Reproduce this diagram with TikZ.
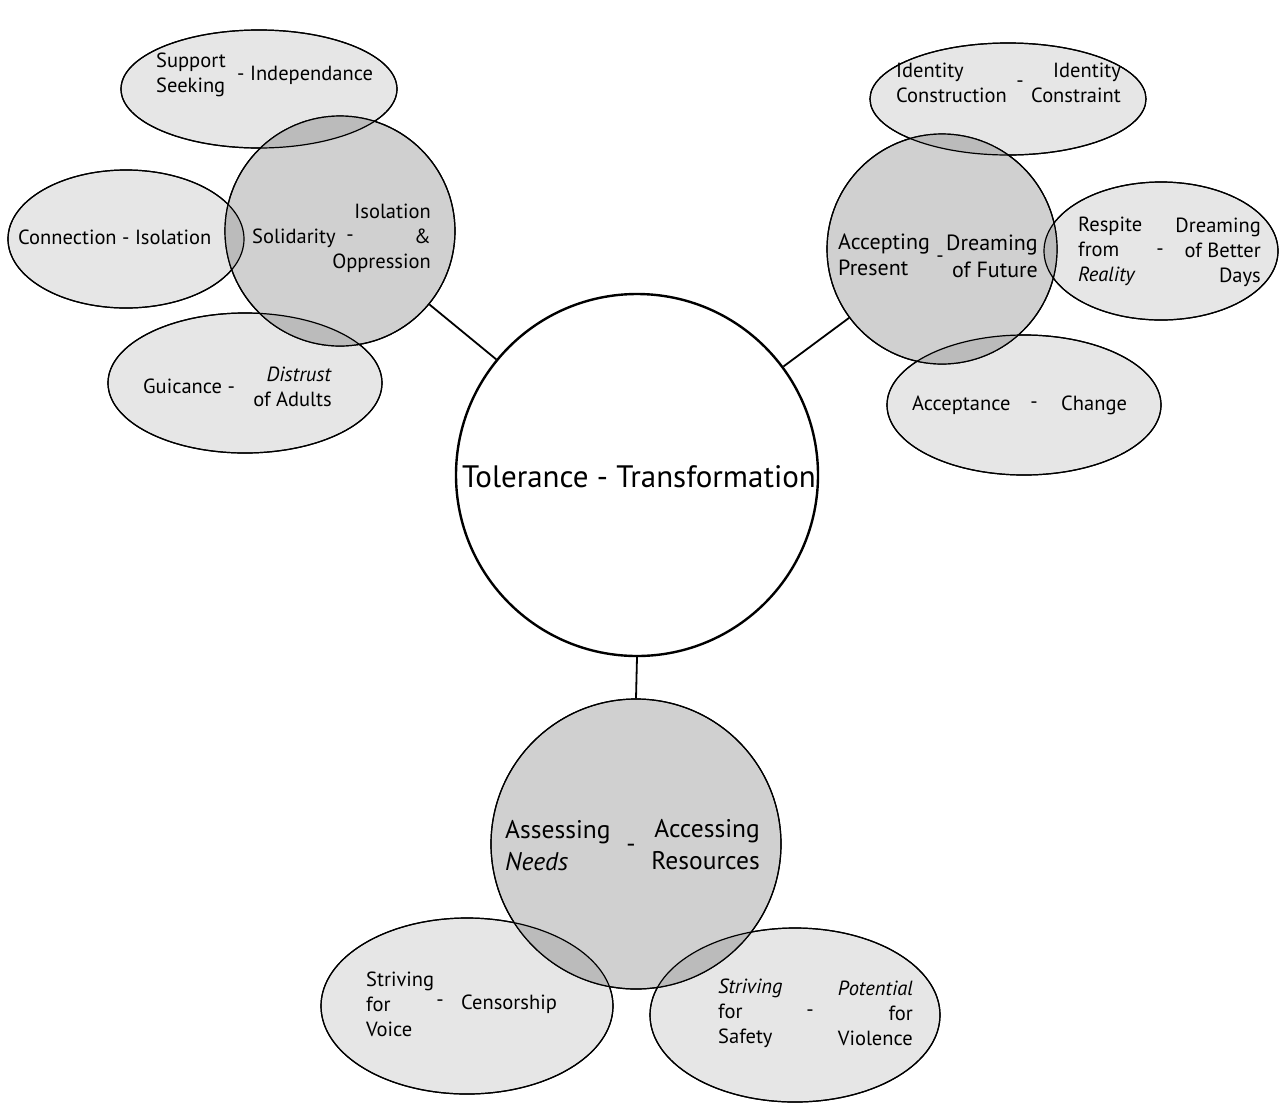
\documentclass[tikz,border=0pt]{standalone}
\usepackage{fontspec}
\setmainfont{PT Sans}
\usetikzlibrary{shapes.geometric}
\definecolor{ellfill}{HTML}{E6E6E6}
\definecolor{circfill}{HTML}{D0D0D0}
\definecolor{ovfill}{HTML}{BBBBBB}
\tikzset{
  petal/.style={ellipse, draw=black, line width=1.2pt, inner sep=0pt, fill=ellfill},
  hub/.style={circle, draw=black, line width=1.2pt, inner sep=0pt, fill=circfill},
  outl/.style={draw=black, line width=1.2pt},
  link/.style={draw=black, line width=1.8pt},
  lbl/.style={inner sep=0pt, font=\fontsize{20.5}{25}\selectfont},
  lblL/.style={lbl, anchor=west, align=left},
  lblR/.style={lbl, anchor=east, align=right},
  big/.style={inner sep=0pt, font=\fontsize{25.5}{32}\selectfont},
}
\begin{document}
\begin{tikzpicture}[x=1pt,y=-1pt]
\useasboundingbox (0,0) rectangle (1280,1104);
\fill[white] (0,0) rectangle (1280,1104);

% ---------- central ----------
\node[circle, draw=black, line width=2.4pt, fill=white, minimum size=362pt, inner sep=0pt] (cen) at (637,475) {};

% ---------- petals ----------
\node[petal, minimum width=276pt, minimum height=118pt] (sup) at (259,89) {};
\node[petal, minimum width=236pt, minimum height=138pt] (con) at (126,239) {};
\node[petal, minimum width=274pt, minimum height=140pt] (gui) at (245,383) {};
\node[petal, minimum width=276pt, minimum height=112pt] (ide) at (1008,99) {};
\node[petal, minimum width=234pt, minimum height=138pt] (res) at (1161,251) {};
\node[petal, minimum width=274pt, minimum height=140pt] (acc) at (1024,405) {};
\node[petal, minimum width=292pt, minimum height=176pt] (cens) at (467,1006) {};
\node[petal, minimum width=290pt, minimum height=174pt] (saf) at (795,1015) {};

% ---------- hubs ----------
\node[hub, minimum size=230pt] (sol) at (340,231) {};
\node[hub, minimum size=230pt] (dre) at (942,249) {};
\node[hub, minimum size=290pt] (ass) at (636,844) {};

% ---------- overlaps ----------
\begin{scope}\clip (259,89) ellipse [x radius=138, y radius=59]; \fill[ovfill] (340,231) circle [radius=115];\end{scope}
\begin{scope}\clip (126,239) ellipse [x radius=118, y radius=69]; \fill[ovfill] (340,231) circle [radius=115];\end{scope}
\begin{scope}\clip (245,383) ellipse [x radius=137, y radius=70]; \fill[ovfill] (340,231) circle [radius=115];\end{scope}
\begin{scope}\clip (1008,99) ellipse [x radius=138, y radius=56]; \fill[ovfill] (942,249) circle [radius=115];\end{scope}
\begin{scope}\clip (1161,251) ellipse [x radius=117, y radius=69]; \fill[ovfill] (942,249) circle [radius=115];\end{scope}
\begin{scope}\clip (1024,405) ellipse [x radius=137, y radius=70]; \fill[ovfill] (942,249) circle [radius=115];\end{scope}
\begin{scope}\clip (467,1006) ellipse [x radius=146, y radius=88]; \fill[ovfill] (636,844) circle [radius=145];\end{scope}
\begin{scope}\clip (795,1015) ellipse [x radius=145, y radius=87]; \fill[ovfill] (636,844) circle [radius=145];\end{scope}

% outlines redrawn
\draw[outl] (259,89) ellipse [x radius=138, y radius=59];
\draw[outl] (126,239) ellipse [x radius=118, y radius=69];
\draw[outl] (245,383) ellipse [x radius=137, y radius=70];
\draw[outl] (1008,99) ellipse [x radius=138, y radius=56];
\draw[outl] (1161,251) ellipse [x radius=117, y radius=69];
\draw[outl] (1024,405) ellipse [x radius=137, y radius=70];
\draw[outl] (467,1006) ellipse [x radius=146, y radius=88];
\draw[outl] (795,1015) ellipse [x radius=145, y radius=87];
\draw[outl] (340,231) circle [radius=115];
\draw[outl] (942,249) circle [radius=115];
\draw[outl] (636,844) circle [radius=145];

% ---------- connectors ----------
\draw[link] (sol) -- (cen);
\draw[link] (dre) -- (cen);
\draw[link] (cen.south) -- (ass.north);

% ---------- texts ----------
\node[inner sep=0pt, font=\fontsize{31}{36}\selectfont] (tcen) at (639,477) {Tolerance - Transformation};

% support seeking
\node[lblL] (t1a) at (156,75) {Support\\Seeking};
\node[lblL] (t1b) at (237,75) {- Independance};
% connection
\node[lblL] (t2) at (18,237) {Connection - Isolation};
% solidarity
\node[lblL] (t3a) at (252,238) {Solidarity};
\node[lbl] (t3b) at (350,238) {-};
\node[lblR] (t3c) at (431,238) {Isolation\\\&\\Oppression};
% guidance
\node[lblL] (t4a) at (143,386) {Guicance -};
\node[lblR] (t4b) at (332,387) {\textit{Distrust}\\of Adults};

% identity
\node[lblL] (t5a) at (896,83) {Identity\\Construction};
\node[lbl] (t5b) at (1020,84) {-};
\node[lblR] (t5c) at (1121,83) {Identity\\Constraint};
% accepting
\node[lblL, font=\fontsize{22}{26}\selectfont] (t6a) at (838,255) {Accepting\\Present};
\node[lbl] (t6b) at (940,259) {-};
\node[lblR, font=\fontsize{22}{27}\selectfont] (t6c) at (1038,256) {Dreaming\\of Future};
% respite
\node[lblL] (t7a) at (1078,251) {Respite\\from\\\textit{Reality}};
\node[lbl] (t7b) at (1160,252) {-};
\node[lblR] (t7c) at (1261,252) {Dreaming\\of Better\\Days};
% acceptance
\node[lblL] (t8a) at (912,405) {Acceptance};
\node[lbl] (t8b) at (1034,405) {-};
\node[lblL] (t8c) at (1061,405) {Change};

% assessing
\node[big, anchor=west, align=left] (t9a) at (505,846) {Assessing\\\textit{Needs}};
\node[big] (t9b) at (631,848) {-};
\node[big, anchor=east, align=right] (t9c) at (760,845) {Accessing\\Resources};
% censorship
\node[lblL] (t10a) at (366,1004) {Striving\\for\\Voice};
\node[lbl] (t10b) at (440,1003) {-};
\node[lblL] (t10c) at (461,1004) {Censorship};
% safety
\node[lblL] (t11a) at (718,1013) {\textit{Striving}\\for\\Safety};
\node[lbl] (t11b) at (810,1013) {-};
\node[lblR] (t11c) at (913,1013) {\textit{Potential}\\for\\Violence};
\end{tikzpicture}
\end{document}
